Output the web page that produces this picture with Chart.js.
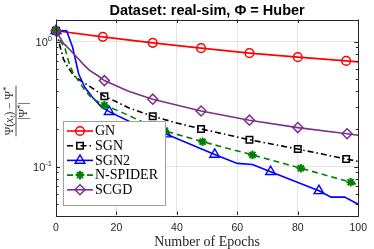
<!DOCTYPE html>
<html><head><meta charset="utf-8">
<script src="https://cdn.jsdelivr.net/npm/chart.js@4.4.1/dist/chart.umd.min.js"></script>
<style>html,body{margin:0;padding:0;background:#fff}#wrap{width:374px;height:249px}</style>
</head><body><div id="wrap"><canvas id="c" width="374" height="249"></canvas></div>
<script>
// ---- data ----
const chartTitle = 'Dataset: real-sim, \u03A6 = Huber';
const xAxisTitle = 'Number of Epochs';
const xTickValues = [0, 20, 40, 60, 80, 100];
const yMajorTicks = [1, 0.1];
const yTickExponents = ['0', '-1'];

const gnEpochs   = [0, 15.5, 32, 48, 64, 80, 96, 100];
const gnValues   = [1.22, 1.09, 0.976, 0.885, 0.807, 0.75, 0.70, 0.688];
const gnMarkers  = [0, 15.5, 32, 48, 64, 80, 96];

const sgnEpochs  = [0, 1, 2.5, 4, 6, 8.5, 11, 16, 20, 24, 32, 40, 48, 64, 80, 96, 100];
const sgnValues  = [1.22, 0.98, 0.72, 0.62, 0.53, 0.48, 0.44, 0.365, 0.33, 0.295, 0.253, 0.223, 0.2, 0.164, 0.138, 0.115, 0.11];
const sgnMarkers = [0, 16, 32, 48, 64, 80, 96];

const sgn2Epochs  = [0, 3.5, 5.5, 7.5, 9.5, 12, 15, 17.6, 25, 36.4, 52.5, 60, 65, 71, 87, 91, 95.5, 100];
const sgn2Values  = [1.22, 1.22, 0.9, 0.55, 0.43, 0.36, 0.3, 0.275, 0.225, 0.182, 0.125, 0.106, 0.104, 0.091, 0.064, 0.057, 0.057, 0.050];
const sgn2Markers = [0, 17.6, 36.4, 52.5, 71, 87];

const spiderEpochs  = [0, 1, 3, 4.5, 5.7, 7.8, 9.5, 12, 16, 22, 29, 36, 48.5, 65, 81, 97.5, 100];
const spiderValues  = [1.22, 1.05, 0.88, 0.65, 0.56, 0.47, 0.41, 0.35, 0.31, 0.27, 0.225, 0.193, 0.158, 0.124, 0.097, 0.075, 0.071];
const spiderMarkers = [0, 16, 36, 48.5, 65, 81, 97.5];

const scgdEpochs  = [0, 2.4, 4.6, 6.7, 9, 11, 14, 16, 24, 32, 48, 64, 80, 96.3, 100];
const scgdValues  = [1.22, 0.97, 0.86, 0.76, 0.66, 0.59, 0.53, 0.487, 0.4, 0.346, 0.278, 0.235, 0.205, 0.183, 0.178];
const scgdMarkers = [0, 16, 32, 48, 64, 80, 96.3];

// ---- styles ----
const styles = [
  {color:'#FF0000', dash:[], point:'circle', r:4.3, bw:1.5},
  {color:'#000000', dash:[6,3,1.5,3], point:'rect', r:4.6, bw:1.5},
  {color:'#0000FF', dash:[], point:'triangle', r:5.6, bw:1.4},
  {color:'#008000', dash:[6,4], point:'star', r:4.3, bw:2},
  {color:'#7E2F8E', dash:[], point:'rectRot', r:5, bw:1.5}
];
const seriesSrc = [
  [gnEpochs, gnValues, gnMarkers],
  [sgnEpochs, sgnValues, sgnMarkers],
  [sgn2Epochs, sgn2Values, sgn2Markers],
  [spiderEpochs, spiderValues, spiderMarkers],
  [scgdEpochs, scgdValues, scgdMarkers]
];
const seriesNames = ['GN', 'SGN', 'SGN2', 'N-SPIDER', 'SCGD'];

const AX = '#262626';
const datasets = seriesSrc.map((s, i) => ({
  label: seriesNames[i],
  data: s[0].map((x, j) => ({x: x, y: s[1][j]})),
  borderColor: styles[i].color,
  borderWidth: 1.6,
  borderDash: styles[i].dash,
  pointStyle: styles[i].point,
  pointRadius: ctx => (ctx.raw && s[2].includes(ctx.raw.x)) ? styles[i].r : 0,
  pointHoverRadius: 0,
  pointBorderColor: styles[i].color,
  pointBackgroundColor: 'rgba(255,255,255,0)',
  pointBorderWidth: styles[i].bw,
  tension: 0,
  fill: false,
  clip: false,
  order: 5 - i
}));

function drawMarker(ctx, st, x, y) {
  ctx.save();
  ctx.setLineDash([]);
  ctx.strokeStyle = st.color;
  ctx.fillStyle = 'rgba(255,255,255,0)';
  ctx.lineWidth = st.bw;
  Chart.helpers.drawPoint(ctx, {pointStyle: st.point, radius: st.r, rotation: 0, borderWidth: st.bw}, x, y);
  ctx.restore();
}

const decorPlugin = {
  id: 'decor',
  afterDraw(chart) {
    const ctx = chart.ctx, a = chart.chartArea;
    const xs = chart.scales.x, ys = chart.scales.y;
    ctx.save();
    // box
    ctx.strokeStyle = AX; ctx.lineWidth = 1; ctx.setLineDash([]);
    ctx.strokeRect(Math.round(a.left)+0.5, Math.round(a.top)+0.5, Math.round(a.right-a.left), Math.round(a.bottom-a.top));
    // x ticks inward
    ctx.beginPath();
    xTickValues.forEach(v => {
      const px = Math.round(xs.getPixelForValue(v)) + 0.5;
      ctx.moveTo(px, a.bottom); ctx.lineTo(px, a.bottom - 3.5);
      ctx.moveTo(px, a.top); ctx.lineTo(px, a.top + 3.5);
    });
    // y ticks inward (major + minor)
    for (let e = -2; e <= 0; e++) {
      for (let k = 1; k <= 9; k++) {
        const v = k * Math.pow(10, e);
        if (v < ys.min || v > ys.max) continue;
        const py = Math.round(ys.getPixelForValue(v)) + 0.5;
        const L = k === 1 ? 4 : 2.5;
        ctx.moveTo(a.left, py); ctx.lineTo(a.left + L, py);
        ctx.moveTo(a.right, py); ctx.lineTo(a.right - L, py);
      }
    }
    ctx.stroke();
    // y tick labels with superscripts
    ctx.fillStyle = AX;
    yMajorTicks.forEach((v, i) => {
      const py = ys.getPixelForValue(v);
      ctx.font = '7.5px "Liberation Sans"';
      const ew = ctx.measureText(yTickExponents[i]).width;
      const right = 52;
      ctx.textAlign = 'left'; ctx.textBaseline = 'alphabetic';
      ctx.fillText(yTickExponents[i], right - ew, py - 1);
      ctx.font = '11px "Liberation Sans"';
      ctx.textAlign = 'right';
      ctx.fillText('10', right - ew, py + 4);
    });
    // title
    ctx.fillStyle = '#000';
    ctx.font = 'bold 14.5px "Liberation Sans"';
    ctx.textAlign = 'center'; ctx.textBaseline = 'middle';
    ctx.fillText(chartTitle, (a.left + a.right) / 2, 10.5);
    // x title
    ctx.fillStyle = AX;
    ctx.font = '14px "Liberation Serif"';
    ctx.fillText(xAxisTitle, (a.left + a.right) / 2, 242);
    // y title (fraction), rotated
    ctx.save();
    ctx.translate(16, 111);
    ctx.rotate(-Math.PI / 2);
    const fs = 11.5;
    const parts = [
      {t:'\u03A8(', f:`${fs}px "Liberation Serif"`, dy:0},
      {t:'x', f:`italic ${fs}px "Liberation Serif"`, dy:0},
      {t:'t', f:`italic ${fs*0.7}px "Liberation Serif"`, dy:2},
      {t:')', f:`${fs}px "Liberation Serif"`, dy:0},
      {t:' \u2212 ', f:`${fs}px "Liberation Serif"`, dy:0},
      {t:'\u03A8', f:`${fs}px "Liberation Serif"`, dy:0},
      {t:'*', f:`${fs*0.75}px "Liberation Serif"`, dy:-4}
    ];
    let tw = 0;
    parts.forEach(p => { ctx.font = p.f; p.w = ctx.measureText(p.t).width; tw += p.w; });
    let cx = -tw / 2;
    ctx.textAlign = 'left'; ctx.textBaseline = 'alphabetic';
    parts.forEach(p => { ctx.font = p.f; ctx.fillText(p.t, cx, -3 + p.dy); cx += p.w; });
    ctx.strokeStyle = AX; ctx.lineWidth = 0.8;
    ctx.beginPath(); ctx.moveTo(-tw/2 - 1, 0); ctx.lineTo(tw/2 + 1, 0); ctx.stroke();
    const den = [
      {t:'|\u03A8', f:`${fs}px "Liberation Serif"`, dy:0},
      {t:'*', f:`${fs*0.75}px "Liberation Serif"`, dy:-4},
      {t:'|', f:`${fs}px "Liberation Serif"`, dy:0}
    ];
    let dw = 0;
    den.forEach(p => { ctx.font = p.f; p.w = ctx.measureText(p.t).width; dw += p.w; });
    cx = -dw / 2;
    den.forEach(p => { ctx.font = p.f; ctx.fillText(p.t, cx, 10.5 + p.dy); cx += p.w; });
    ctx.restore();
    // legend
    const lx = 63.5, ly = 121.5, lw = 102, lh = 84;
    ctx.fillStyle = '#fff';
    ctx.fillRect(lx, ly, lw, lh);
    ctx.strokeStyle = '#a0a0a0'; ctx.lineWidth = 1; ctx.setLineDash([]);
    ctx.strokeRect(lx, ly, lw, lh);
    seriesNames.forEach((n, i) => {
      const yy = 131 + i * 14.7;
      ctx.strokeStyle = styles[i].color; ctx.lineWidth = 1.6;
      ctx.setLineDash(styles[i].dash);
      ctx.beginPath(); ctx.moveTo(67, yy); ctx.lineTo(93, yy); ctx.stroke();
      drawMarker(ctx, styles[i], 80, yy);
      ctx.fillStyle = '#000';
      ctx.font = '14px "Liberation Serif"';
      ctx.textAlign = 'left'; ctx.textBaseline = 'middle';
      ctx.fillText(n, 95, yy + 0.5);
    });
    ctx.restore();
  }
};

new Chart(document.getElementById('c'), {
  type: 'line',
  data: {datasets: datasets},
  options: {
    responsive: false,
    devicePixelRatio: 1,
    animation: false,
    layout: {padding: {top: 19.5, right: 12, left: 0, bottom: 0}},
    plugins: {legend: {display: false}, title: {display: false}, tooltip: {enabled: false}},
    scales: {
      x: {
        type: 'linear', min: 0, max: 100,
        afterFit: s => { s.height = 34; },
        afterBuildTicks: s => { s.ticks = xTickValues.map(v => ({value: v})); },
        ticks: {color: AX, font: {family: 'Liberation Sans', size: 10.5}, padding: 7, maxRotation: 0, autoSkip: false},
        grid: {color: c => (c.tick && c.tick.value > 0 && c.tick.value < 100) ? 'rgba(0,0,0,0.1)' : 'rgba(0,0,0,0)', drawTicks: false, lineWidth: 1},
        border: {display: false}
      },
      y: {
        type: 'logarithmic', min: 0.041, max: 1.5,
        afterFit: s => { s.width = 56; },
        ticks: {display: false},
        grid: {color: c => (c.tick && (Math.abs(c.tick.value - 1) < 1e-9 || Math.abs(c.tick.value - 0.1) < 1e-9)) ? 'rgba(0,0,0,0.1)' : 'rgba(0,0,0,0)', drawTicks: false},
        border: {display: false}
      }
    }
  },
  plugins: [decorPlugin]
});
</script></body></html>
